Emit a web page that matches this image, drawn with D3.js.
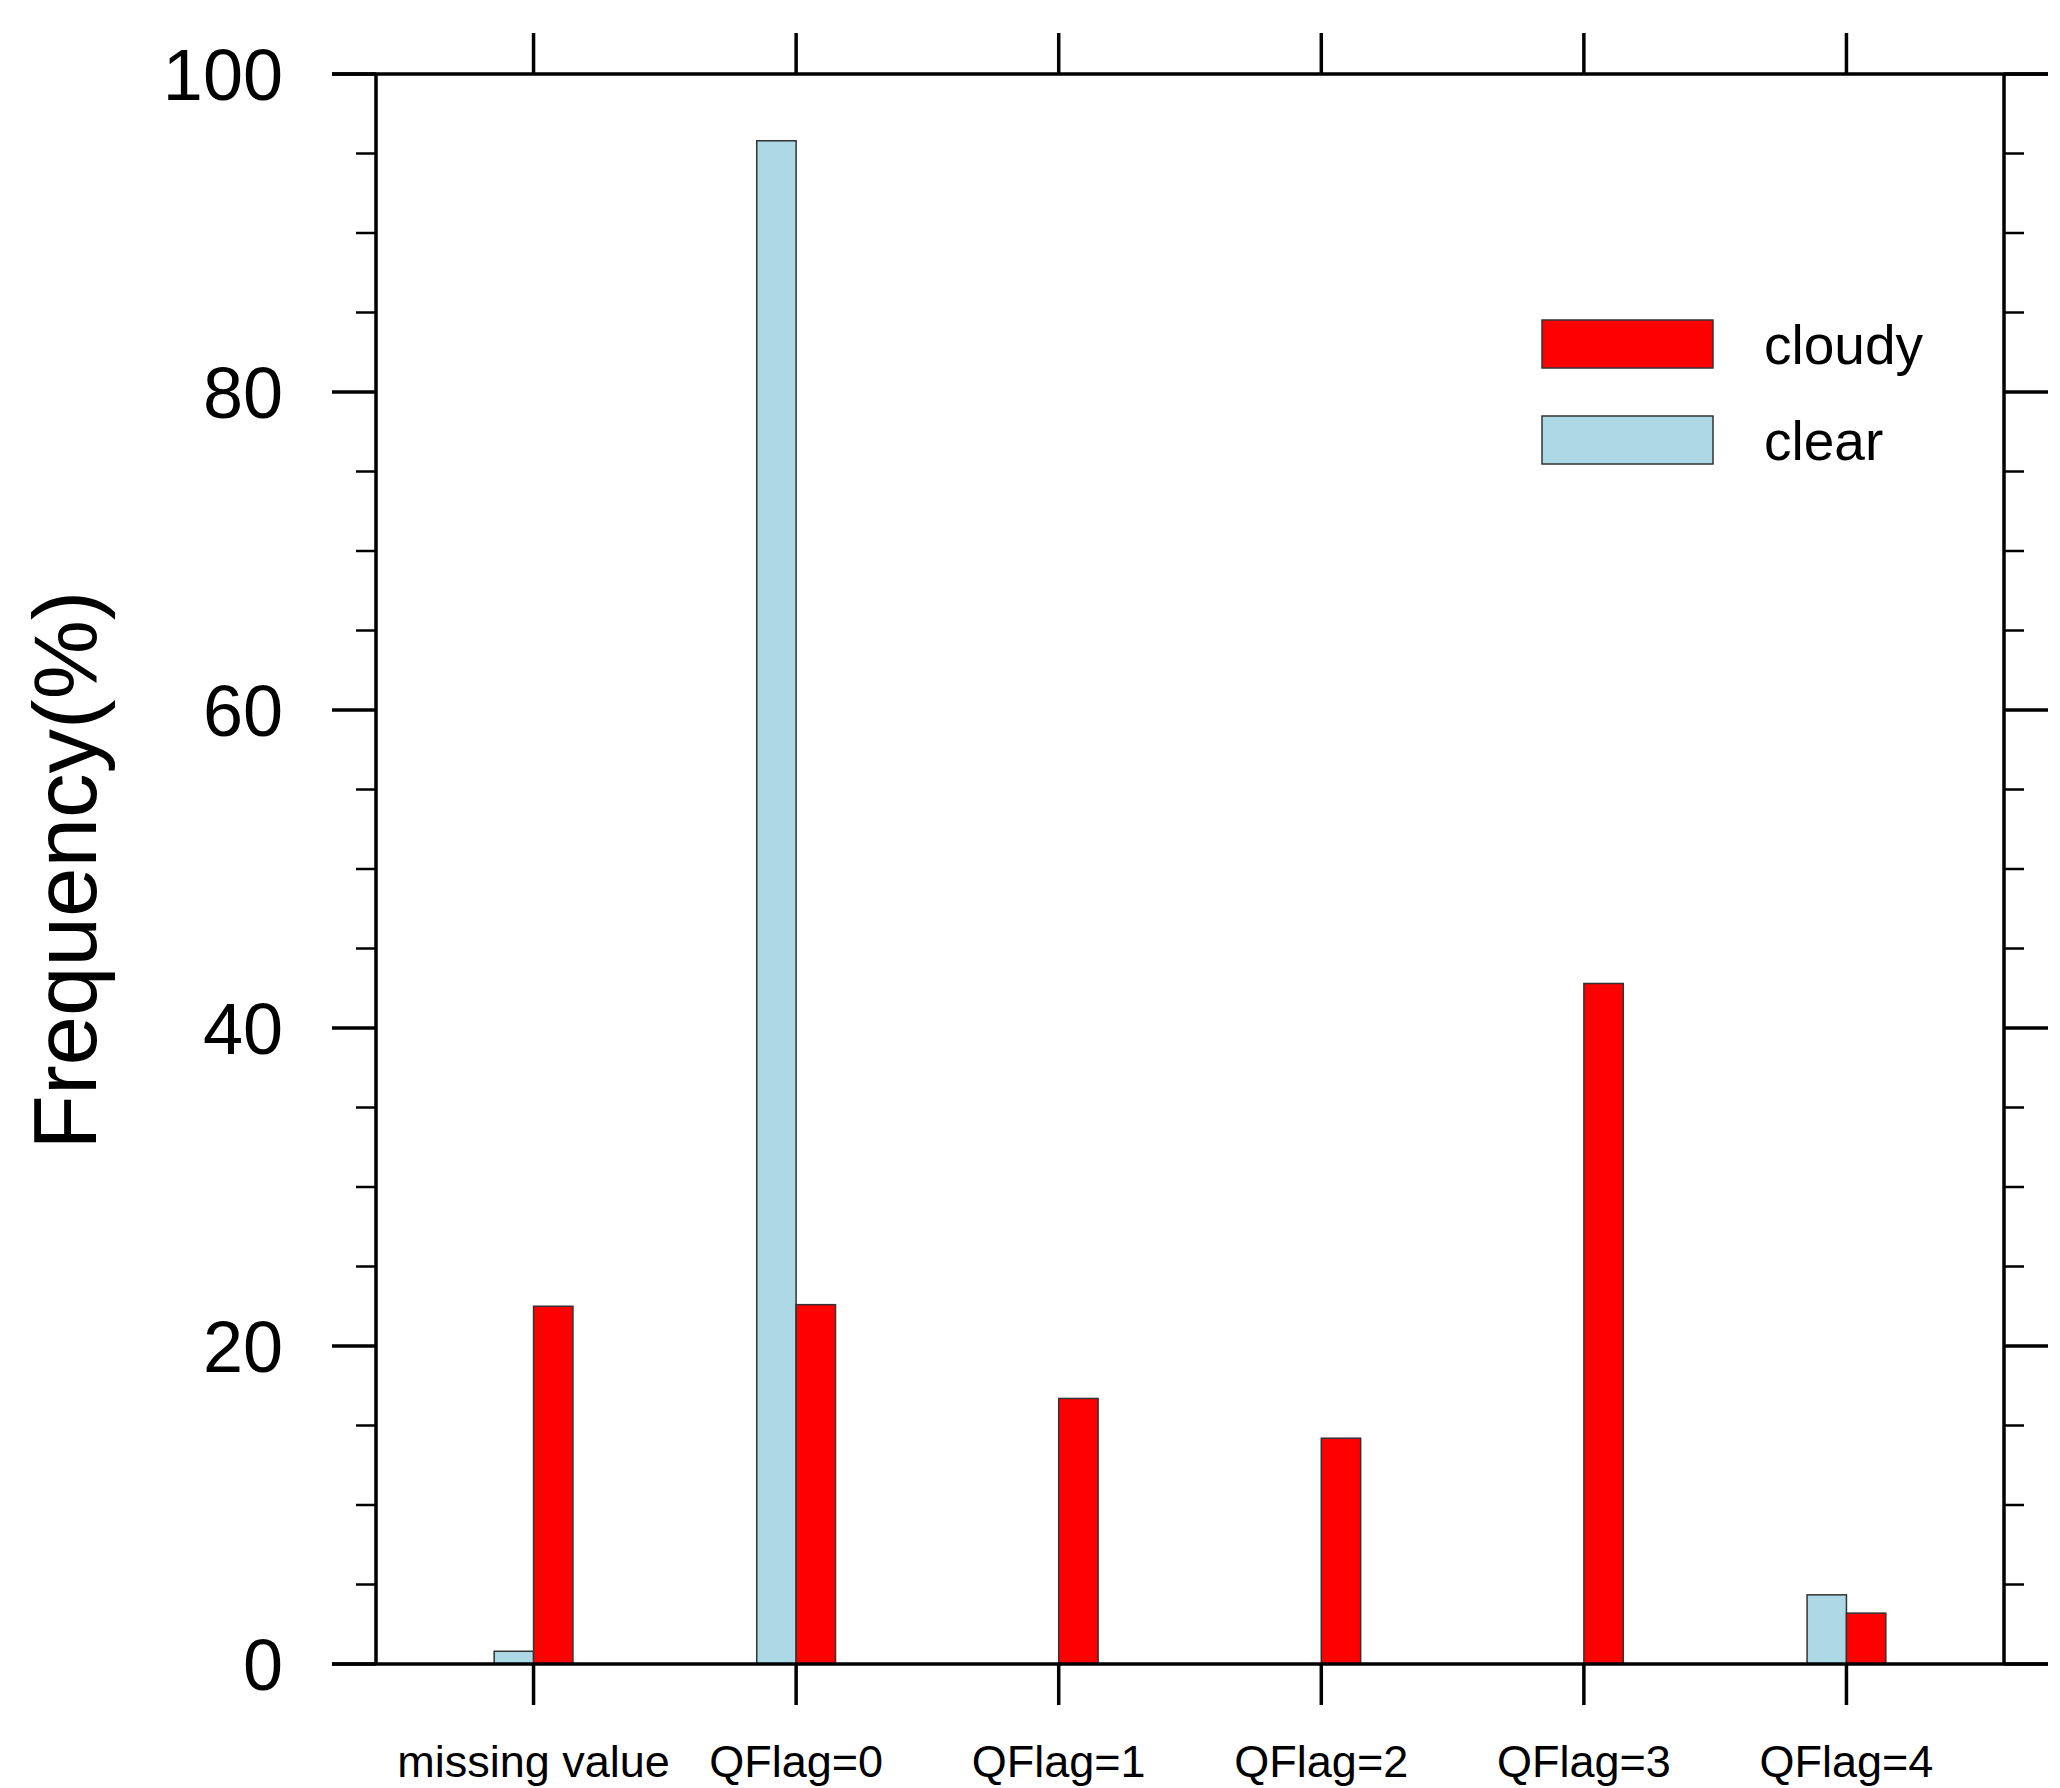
<!DOCTYPE html>
<html>
<head>
<meta charset="utf-8">
<script src="https://cdn.jsdelivr.net/npm/d3@7"></script>
<style>
  body { margin: 0; background: #fff; }
  text { font-family: "Liberation Sans", Arial, sans-serif; fill: #000; }
</style>
</head>
<body>
<svg id="chart" width="2060" height="1788"></svg>
<script>
var categories = ["missing value", "QFlag=0", "QFlag=1", "QFlag=2", "QFlag=3", "QFlag=4"];
var clearVals = [0.8, 95.8, 0, 0, 0, 4.35];
var cloudyVals = [22.5, 22.6, 16.7, 14.2, 42.8, 3.2];
var yMajor = [0, 20, 40, 60, 80, 100];
var yMinor = d3.range(0, 101, 5);

var svg = d3.select("#chart");
var pLeft = 376, pRight = 2004, pTop = 74, pBottom = 1664;

var x = d3.scaleLinear().domain([-0.6, 5.6]).range([pLeft, pRight]);
var y = d3.scaleLinear().domain([0, 100]).range([pBottom, pTop]);
var bw = 0.15;

// bars: clear left of tick, cloudy right of tick
function drawBars(vals, off, color) {
  var rows = vals.map(function(v, i) { return { i: i, v: v }; })
    .filter(function(d) { return d.v > 0; });
  svg.append("g").selectAll("rect").data(rows).enter().append("rect")
    .attr("x", function(d) { return x(d.i + off); })
    .attr("y", function(d) { return y(d.v); })
    .attr("width", x(bw) - x(0))
    .attr("height", function(d) { return y(0) - y(d.v); })
    .attr("fill", color).attr("stroke", "#333").attr("stroke-width", 1.5);
}
drawBars(clearVals, -bw, "#add8e6");
drawBars(cloudyVals, 0, "#ff0000");

// frame
var fr = svg.append("g").attr("stroke", "#000").attr("stroke-width", 3.5).attr("fill", "none");
fr.append("line").attr("x1", 332).attr("x2", 2048).attr("y1", pTop).attr("y2", pTop);
fr.append("line").attr("x1", 332).attr("x2", 2048).attr("y1", pBottom).attr("y2", pBottom);
fr.append("line").attr("x1", pLeft).attr("x2", pLeft).attr("y1", pTop).attr("y2", pBottom);
fr.append("line").attr("x1", pRight).attr("x2", pRight).attr("y1", pTop).attr("y2", pBottom);

// y ticks
yMinor.forEach(function(v) {
  var major = yMajor.indexOf(v) >= 0;
  var len = major ? 44 : 20;
  fr.append("line").attr("x1", pLeft - len).attr("x2", pLeft).attr("y1", y(v)).attr("y2", y(v))
    .attr("stroke-width", major ? 3.5 : 2.5);
  fr.append("line").attr("x1", pRight).attr("x2", pRight + len).attr("y1", y(v)).attr("y2", y(v))
    .attr("stroke-width", major ? 3.5 : 2.5);
});
svg.append("g").selectAll("text").data(yMajor).enter().append("text")
  .attr("x", 283).attr("y", function(d) { return y(d); })
  .attr("dy", "0.36em").attr("text-anchor", "end")
  .style("font-size", "72px").text(function(d) { return d; });

// x ticks
categories.forEach(function(c, i) {
  fr.append("line").attr("x1", x(i)).attr("x2", x(i)).attr("y1", pTop - 41).attr("y2", pTop);
  fr.append("line").attr("x1", x(i)).attr("x2", x(i)).attr("y1", pBottom).attr("y2", pBottom + 41);
});
svg.append("g").selectAll("text").data(categories).enter().append("text")
  .attr("x", function(d, i) { return x(i); }).attr("y", 1761)
  .attr("dy", "0.36em").attr("text-anchor", "middle")
  .style("font-size", "45px").text(function(d) { return d; });

// y title
svg.append("text").attr("transform", "translate(64,870) rotate(-90)")
  .attr("text-anchor", "middle").attr("dy", "0.36em")
  .style("font-size", "89px").text("Frequency(%)");

// legend
var legend = [["cloudy", "#ff0000", 344], ["clear", "#add8e6", 440]];
legend.forEach(function(l) {
  svg.append("rect").attr("x", 1542).attr("y", l[2] - 24).attr("width", 171).attr("height", 48)
    .attr("fill", l[1]).attr("stroke", "#333").attr("stroke-width", 1.5);
  svg.append("text").attr("x", 1764).attr("y", l[2]).attr("dy", "0.36em")
    .style("font-size", "55px").text(l[0]);
});
</script>
</body>
</html>
